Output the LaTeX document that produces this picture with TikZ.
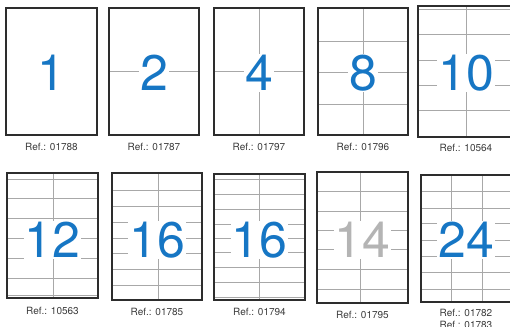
\documentclass[tikz,border=0pt]{standalone}
\usepackage{fontspec}
\setmainfont{TeX Gyre Heros}
\usepackage{tikz}
\usetikzlibrary{positioning}
\definecolor{framedark}{RGB}{45,45,45}
\definecolor{linegray}{RGB}{168,168,168}
\definecolor{numblue}{RGB}{22,118,196}
\definecolor{numgray}{RGB}{180,180,180}
\definecolor{labelgray}{RGB}{60,60,60}
\tikzset{
  sheet/.style={rectangle, draw=framedark, line width=1.3pt, inner sep=0pt},
  cutline/.style={draw=linegray, line width=0.8pt},
  bignum/.style={font=\fontsize{50}{50}\selectfont, text=numblue,
    fill=white, inner sep=1pt},
  reflabel/.style={font=\fontsize{10}{12.5}\selectfont, text=labelgray,
    inner sep=1pt, align=center}
}
\begin{document}
\begin{tikzpicture}[x=1pt, y=-1pt]
  \useasboundingbox (0,0) rectangle (510,326);

  % Cut lines of the label sheets
  \draw[cutline] (109,71) -- (199,71);
  \draw[cutline] (214,71) -- (304,71) (259,8) -- (259,135);
  \draw[cutline] (363,8) -- (363,135);
  \foreach \y in {41,72,104} \draw[cutline] (318,\y) -- (408,\y);
  \draw[cutline] (466,6) -- (466,137);
  \foreach \y in {9,34,60,85,110} \draw[cutline] (418,\y) -- (512,\y);
  \draw[cutline] (53,173) -- (53,298);
  \foreach \y in {179,198,218,238,258,278,295} \draw[cutline] (7,\y) -- (98,\y);
  \draw[cutline] (158,173) -- (158,300);
  \foreach \y in {190,206,222,238,253,269,285} \draw[cutline] (112,\y) -- (202,\y);
  \draw[cutline] (259,174) -- (259,300);
  \foreach \y in {179,194,209,224,238,252,267,282,297} \draw[cutline] (214,\y) -- (305,\y);
  \draw[cutline] (360,172) -- (360,303);
  \foreach \y in {191,211,230,249,269,289} \draw[cutline] (317,\y) -- (408,\y);
  \draw[cutline] (451,175) -- (451,302) (482,175) -- (482,302);
  \foreach \y in {191,208,223,240,256,272,289} \draw[cutline] (421,\y) -- (512,\y);

  % Sheets
  \node[sheet, minimum width=91pt, minimum height=127pt] (s1) at (51.5,71.5) {};
  \node[sheet, minimum width=90pt, minimum height=127pt] (s2) at (154,71.5) {};
  \node[sheet, minimum width=90pt, minimum height=127pt] (s4) at (259,71.5) {};
  \node[sheet, minimum width=90pt, minimum height=127pt] (s8) at (363,71.5) {};
  \node[sheet, minimum width=94pt, minimum height=131pt] (s10) at (465,71.5) {};
  \node[sheet, minimum width=91pt, minimum height=125pt] (s12) at (52.5,235.5) {};
  \node[sheet, minimum width=90pt, minimum height=127pt] (s16a) at (157,236.5) {};
  \node[sheet, minimum width=91pt, minimum height=126pt] (s16b) at (259.5,237) {};
  \node[sheet, minimum width=91pt, minimum height=131pt] (s14) at (362.5,237.5) {};
  \node[sheet, minimum width=91pt, minimum height=127pt] (s24) at (466.5,238.5) {};

  % Numbers
  \node[bignum] (n1) at (51.5,73) {1};
  \node[bignum] (n2) at (154,73) {2};
  \node[bignum] (n4) at (259,73) {4};
  \node[bignum] (n8) at (363,73) {8};
  \node[bignum] (n10) at (466,73) {10};
  \node[bignum] (n12) at (52.5,240) {12};
  \node[bignum] (n16a) at (157,240) {16};
  \node[bignum] (n16b) at (259.5,240) {16};
  \node[bignum, text=numgray] (n14) at (362.5,240) {14};
  \node[bignum] (n24) at (466,240) {24};

  % References
  \node[reflabel, below=6pt of s1] (r1) {Ref.: 01788};
  \node[reflabel, below=6pt of s2] (r2) {Ref.: 01787};
  \node[reflabel, below=6pt of s4] (r4) {Ref.: 01797};
  \node[reflabel, below=6pt of s8] (r8) {Ref.: 01796};
  \node[reflabel, below=5pt of s10.south -| n10] (r10) {Ref.: 10564};
  \node[reflabel, below=7pt of s12] (r12) {Ref.: 10563};
  \node[reflabel, below=6pt of s16a] (r16a) {Ref.: 01785};
  \node[reflabel, below=6pt of s16b] (r16b) {Ref.: 01794};
  \node[reflabel, below=6pt of s14] (r14) {Ref.: 01795};
  \node[reflabel, below=5pt of s24.south -| n24] (r24) {Ref.: 01782\\Ref.: 01783};
\end{tikzpicture}
\end{document}
